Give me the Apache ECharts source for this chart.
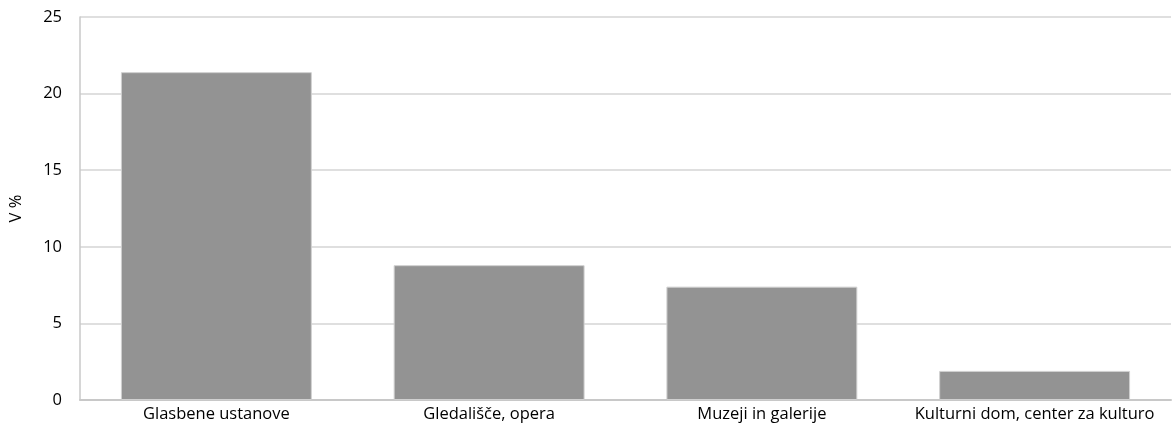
<!DOCTYPE html>
<html><head><meta charset="utf-8">
<script src="https://cdn.jsdelivr.net/npm/echarts@6/dist/echarts.min.js"></script>
<style>html,body{margin:0;padding:0;background:#fff}#c{width:1172px;height:428px}</style>
</head><body><div id="c"></div>
<script>
const categories = ["Glasbene ustanove", "Gledališče, opera", "Muzeji in galerije", "Kulturni dom, center za kulturo"];
const values = [21.4, 8.8, 7.4, 1.9];
const yTicks = { min: 0, max: 25, interval: 5 };
const yName = "V %";

const chart = echarts.init(document.getElementById('c'), null, { renderer: 'canvas' });
chart.setOption({
  animation: false,
  textStyle: { fontFamily: 'Open Sans' },
  grid: { left: 75, right: 1, top: 17, bottom: 28, containLabel: false },
  xAxis: {
    type: 'category', data: categories,
    axisLine: { lineStyle: { color: '#c8c8c8', width: 2 } },
    axisTick: { show: false },
    axisLabel: { color: '#000', fontSize: 16.5, fontFamily: 'Open Sans', margin: 6, interval: 0, hideOverlap: false }
  },
  yAxis: {
    type: 'value', min: yTicks.min, max: yTicks.max, interval: yTicks.interval,
    name: yName, nameLocation: 'middle', nameGap: 55, nameRotate: 90,
    nameTextStyle: { color: '#000', fontSize: 16.5, fontFamily: 'Open Sans' },
    axisLine: { show: true, lineStyle: { color: '#c8c8c8', width: 1.5 } },
    axisTick: { show: false },
    axisLabel: { color: '#000', fontSize: 16.5, fontFamily: 'Open Sans', margin: 18 },
    splitLine: { lineStyle: { color: '#d4d4d4', width: 1.5 } }
  },
  series: [{
    type: 'bar', data: values, barWidth: '70%',
    itemStyle: { color: '#939393', borderColor: '#d0d0d0', borderWidth: 1 }
  }]
});
</script></body></html>
